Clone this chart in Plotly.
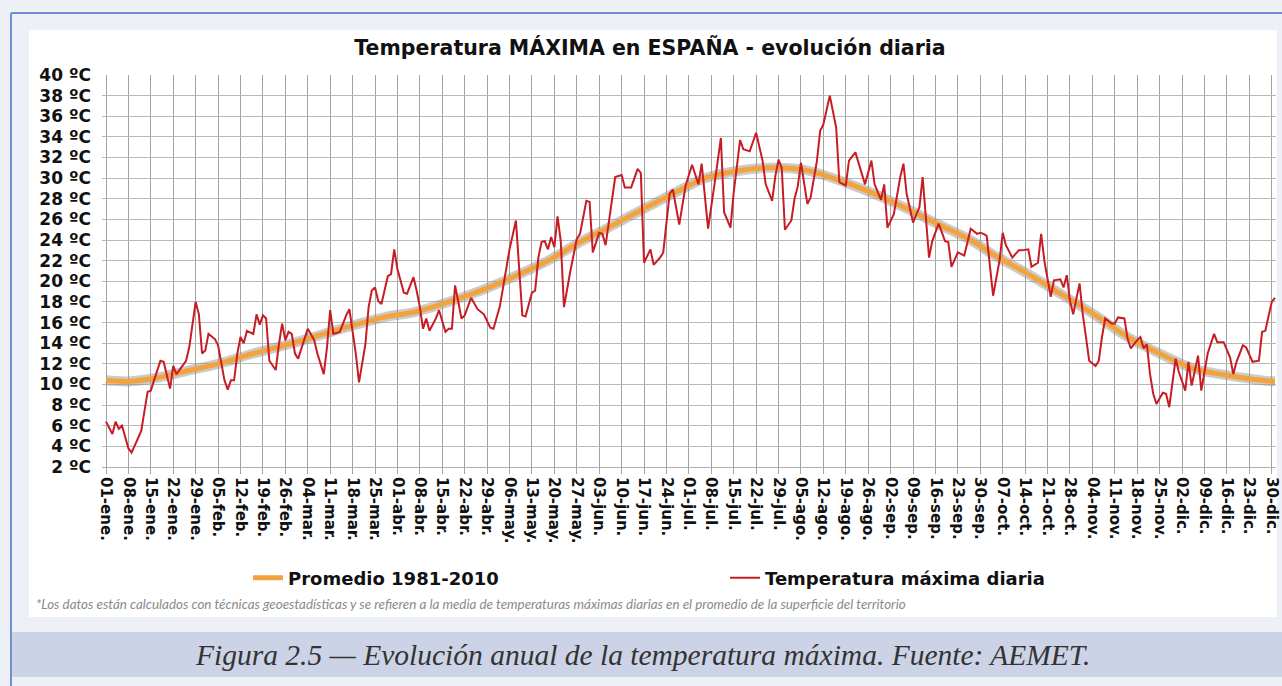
import plotly.graph_objects as go
import pandas as pd

# ---------------- DATA ----------------
YEAR_START = "2020-01-01"

# daily maximum temperature (day-of-year index from 1 Jan, value in ºC)
red_doy = [0, 2, 3, 4, 5, 7, 8, 11, 13, 14, 15, 17, 18, 20, 21, 22, 25, 26, 28, 29,
           30, 31, 32, 34, 35, 37, 38, 39, 40, 41, 42, 43, 44, 46, 47, 48, 49, 50, 51, 53,
           54, 55, 56, 57, 58, 59, 60, 63, 65, 66, 68, 69, 70, 71, 73, 75, 76, 78, 79, 81,
           82, 83, 84, 85, 86, 88, 89, 90, 91, 93, 94, 96, 97, 98, 99, 100, 101, 103, 104, 106,
           107, 108, 109, 111, 112, 114, 116, 118, 120, 121, 123, 125, 126, 128, 129, 130, 131, 133, 134, 135,
           136, 137, 138, 139, 140, 141, 142, 143, 145, 147, 148, 150, 151, 152, 154, 155, 156, 158, 159, 161,
           162, 164, 166, 167, 168, 170, 171, 173, 174, 176, 177, 179, 181, 183, 185, 186, 188, 190, 192, 193,
           195, 196, 198, 199, 201, 203, 205, 206, 208, 209, 210, 211, 212, 214, 215, 216, 217, 219, 220, 222,
           223, 224, 226, 228, 229, 231, 232, 234, 236, 237, 239, 240, 242, 243, 244, 246, 248, 249, 250, 252,
           254, 255, 257, 258, 260, 262, 263, 264, 266, 268, 270, 272, 273, 274, 275, 277, 279, 280, 281, 283,
           285, 286, 288, 289, 291, 292, 293, 295, 296, 298, 299, 300, 301, 302, 304, 305, 306, 307, 309, 310,
           311, 312, 314, 315, 316, 318, 319, 320, 322, 323, 324, 325, 326, 327, 328, 330, 331, 332, 334, 335,
           337, 338, 339, 341, 342, 344, 346, 347, 349, 351, 352, 353, 355, 356, 358, 360, 361, 362, 364, 365]
red_val = [6.4, 5.2, 6.4, 5.7, 6.0, 3.8, 3.4, 5.5, 9.3, 9.4, 10.4, 12.3, 12.2, 9.6, 11.8, 11.0, 12.3, 13.6, 18.0, 16.8,
           13.0, 13.3, 14.9, 14.4, 13.8, 10.4, 9.5, 10.4, 10.4, 13.0, 14.6, 14.0, 15.2, 14.9, 16.8, 15.8, 16.7, 16.4, 12.3, 11.4,
           13.9, 15.9, 14.3, 15.1, 14.9, 13.0, 12.5, 15.4, 14.3, 13.0, 11.0, 13.6, 17.2, 14.9, 15.1, 16.7, 17.3, 13.0, 10.2, 13.9,
           17.5, 19.1, 19.4, 18.1, 17.8, 20.5, 20.7, 23.1, 21.2, 18.9, 18.8, 20.4, 19.1, 17.5, 15.4, 16.4, 15.2, 16.4, 17.2, 15.1,
           15.4, 15.4, 19.6, 16.4, 16.7, 18.4, 17.3, 16.8, 15.5, 15.4, 17.6, 21.4, 23.1, 25.9, 20.7, 16.7, 16.6, 18.9, 19.1, 22.3,
           23.8, 23.9, 23.1, 24.3, 23.3, 26.3, 23.9, 17.5, 21.0, 24.1, 24.6, 27.8, 27.7, 22.8, 24.7, 24.6, 23.5, 27.8, 30.1, 30.3,
           29.1, 29.1, 30.9, 30.5, 21.8, 23.1, 21.6, 22.3, 22.8, 28.5, 28.9, 25.5, 29.3, 31.3, 29.4, 31.4, 25.1, 29.4, 33.9, 26.7,
           25.2, 28.6, 33.7, 32.8, 32.6, 34.4, 31.7, 29.4, 27.8, 30.2, 31.8, 31.0, 25.0, 25.9, 28.0, 29.2, 31.5, 27.5, 28.1, 31.7,
           34.6, 35.2, 38.0, 34.9, 29.6, 29.3, 31.7, 32.5, 30.4, 29.4, 31.7, 29.4, 27.9, 29.4, 25.2, 26.5, 30.1, 31.4, 28.5, 25.7,
           27.2, 30.1, 22.3, 23.9, 25.6, 23.9, 23.8, 21.4, 22.8, 22.5, 25.1, 24.6, 24.7, 24.6, 24.4, 18.6, 22.0, 24.7, 23.5, 22.3,
           23.0, 23.0, 23.1, 21.4, 21.8, 24.6, 22.0, 18.5, 20.1, 20.2, 19.4, 20.6, 18.1, 16.8, 19.8, 16.8, 14.6, 12.3, 11.8, 12.3,
           14.6, 16.4, 15.9, 15.9, 16.5, 16.4, 14.4, 13.5, 14.3, 14.6, 13.5, 13.9, 11.0, 9.1, 8.1, 9.2, 9.1, 7.8, 12.5, 11.2,
           9.4, 12.2, 9.9, 12.8, 9.4, 13.0, 14.9, 14.1, 14.1, 12.6, 11.0, 12.2, 13.8, 13.6, 12.2, 12.3, 15.1, 15.2, 18.0, 18.4]

# 1981-2010 average (day-of-year index, ºC)
avg_doy = [0, 7, 15, 25, 35, 46, 57, 68, 78, 88, 96, 106, 117, 127, 138, 148, 158, 169, 179, 187,
           197, 207, 218, 228, 239, 249, 260, 270, 277, 288, 298, 309, 319, 329, 340, 350, 361, 365]
avg_val = [10.4, 10.3, 10.6, 11.3, 12.0, 13.0, 13.9, 14.9, 15.8, 16.6, 17.0, 17.9, 19.1, 20.4, 22.0, 23.8, 25.4, 27.2, 28.8, 30.0,
           30.7, 31.0, 30.8, 29.9, 28.6, 27.2, 25.5, 24.0, 22.6, 20.7, 18.8, 16.7, 14.6, 13.0, 11.5, 10.9, 10.4, 10.3]

x_ticklabels = ["01-ene.", "08-ene.", "15-ene.", "22-ene.", "29-ene.", "05-feb.", "12-feb.", "19-feb.", "26-feb.",
                "04-mar.", "11-mar.", "18-mar.", "25-mar.", "01-abr.", "08-abr.", "15-abr.", "22-abr.", "29-abr.",
                "06-may.", "13-may.", "20-may.", "27-may.", "03-jun.", "10-jun.", "17-jun.", "24-jun.", "01-jul.",
                "08-jul.", "15-jul.", "22-jul.", "29-jul.", "05-ago.", "12-ago.", "19-ago.", "26-ago.", "02-sep.",
                "09-sep.", "16-sep.", "23-sep.", "30-sep.", "07-oct.", "14-oct.", "21-oct.", "28-oct.", "04-nov.",
                "11-nov.", "18-nov.", "25-nov.", "02-dic.", "09-dic.", "16-dic.", "23-dic.", "30-dic."]
y_tickvals = list(range(2, 41, 2))
y_ticklabels = [f"{v} ºC" for v in y_tickvals]

title_text = "Temperatura MÁXIMA en ESPAÑA - evolución diaria"
legend_avg = "Promedio 1981-2010"
legend_daily = "Temperatura máxima diaria"
footnote = ("*Los datos están calculados con técnicas geoestadísticas y se refieren a la media de "
            "temperaturas máximas diarias en el promedio de la superficie del territorio")
caption = "Figura 2.5 — Evolución anual de la temperatura máxima. Fuente: AEMET."

# ---------------- BUILD ----------------
start = pd.Timestamp(YEAR_START)
red_x = [start + pd.Timedelta(days=d) for d in red_doy]
avg_x = [start + pd.Timedelta(days=d) for d in avg_doy]
tick_x = [start + pd.Timedelta(days=7 * i) for i in range(len(x_ticklabels))]

W, H = 1282, 686
L, R, T, B = 102, 1276, 75, 467


def px(xp):
    return (xp - L) / (R - L)


def py(yp):
    return (B - yp) / (B - T)


fig = go.Figure()
fig.add_trace(go.Scatter(x=avg_x, y=avg_val, mode="lines", showlegend=False, hoverinfo="skip",
                         line=dict(color="rgba(140,140,140,0.45)", width=10, shape="spline")))
fig.add_trace(go.Scatter(x=avg_x, y=avg_val, mode="lines", name=legend_avg,
                         line=dict(color="#f3a33c", width=5, shape="spline")))
fig.add_trace(go.Scatter(x=red_x, y=red_val, mode="lines", name=legend_daily,
                         line=dict(color="#c81c24", width=2)))

shapes = [
    # white chart panel
    dict(type="rect", xref="paper", yref="paper", x0=px(29), x1=px(1277), y0=py(617), y1=py(30),
         fillcolor="white", line=dict(width=0), layer="below"),
    # caption band
    dict(type="rect", xref="paper", yref="paper", x0=px(12), x1=px(1290), y0=py(677), y1=py(632),
         fillcolor="#cdd3e6", line=dict(width=0), layer="below"),
    # blue frame
    dict(type="line", xref="paper", yref="paper", x0=px(11), x1=px(11), y0=py(700), y1=py(13),
         line=dict(color="#6f8fd2", width=2), layer="below"),
    dict(type="line", xref="paper", yref="paper", x0=px(11), x1=px(1290), y0=py(13), y1=py(13),
         line=dict(color="#6f8fd2", width=2), layer="below"),
]

annotations = [
    dict(text=footnote, xref="paper", yref="paper", x=px(34), y=py(604), xanchor="left", yanchor="middle",
         showarrow=False, font=dict(family="Lato", size=13.4, color="#8a8a8a", style="italic")),
    dict(text=caption, xref="paper", yref="paper", x=px(642), y=py(655), xanchor="center", yanchor="middle",
         showarrow=False, font=dict(family="Liberation Serif", size=29.5, color="#333333", style="italic")),
]

fig.update_layout(
    width=W, height=H,
    margin=dict(l=L, r=W - R, t=T, b=H - B, pad=0, autoexpand=False),
    paper_bgcolor="#eef0f8",
    plot_bgcolor="rgba(0,0,0,0)",
    shapes=shapes,
    annotations=annotations,
    title=dict(text=title_text, xref="container", yref="container", x=650 / W, y=1 - 48 / H,
               xanchor="center", yanchor="middle",
               font=dict(family="DejaVu Sans", size=20.5, color="#111111", weight="bold")),
    showlegend=True,
    legend=dict(orientation="h", xref="paper", yref="paper", x=px(248), y=py(578),
                xanchor="left", yanchor="middle", entrywidth=432, entrywidthmode="pixels",
                itemwidth=30, bgcolor="rgba(0,0,0,0)",
                font=dict(family="DejaVu Sans", size=18, color="#111111", weight="bold")),
    xaxis=dict(
        type="date", automargin=False,
        range=[start - pd.Timedelta(hours=30), start + pd.Timedelta(days=365, hours=8)],
        tickvals=tick_x, ticktext=x_ticklabels, tickangle=90,
        tickfont=dict(family="DejaVu Sans", size=15, color="#111111", weight="bold"),
        showgrid=True, gridcolor="#a3a3a3", gridwidth=1,
        ticks="outside", ticklen=6, tickcolor="#a3a3a3",
        showline=True, linecolor="#b0b0b0", linewidth=1,
        zeroline=False,
    ),
    yaxis=dict(
        range=[2, 40], tickvals=y_tickvals, ticktext=y_ticklabels, automargin=False,
        tickfont=dict(family="DejaVu Sans", size=17, color="#111111", weight="bold"),
        showgrid=True, gridcolor="#b8b8b8", gridwidth=1,
        ticks="", ticklabelstandoff=10,
        showline=False, zeroline=False,
    ),
)

fig.write_html("out.html", config={"displayModeBar": False},
               post_script="document.body.style.margin='0';")
